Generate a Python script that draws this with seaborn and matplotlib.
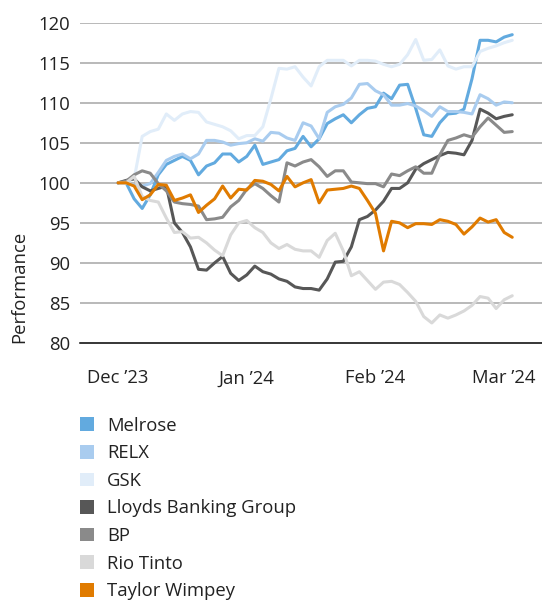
import matplotlib
matplotlib.use("Agg")
import matplotlib.pyplot as plt
from matplotlib.patches import Patch
import numpy as np
import pandas as pd
import seaborn as sns

# rebased share performance (start = 100), one value per step
melrose = [100, 100, 98.0, 96.8, 98.5, 101.0, 102.3, 102.8, 103.3, 102.8,
           101.0, 102.1, 102.5, 103.6, 103.6, 102.6, 103.3, 104.7, 102.3, 102.6,
           102.9, 104.0, 104.3, 105.8, 104.5, 105.5, 107.4, 108.0, 108.5, 107.5,
           108.5, 109.3, 109.5, 111.2, 110.5, 112.2, 112.3, 109.3, 106.0, 105.8,
           107.5, 108.6, 108.7, 109.2, 113.0, 117.8, 117.8, 117.6, 118.2, 118.5]
relx = [100, 100, 99.7, 99.6, 99.9, 101.3, 102.8, 103.3, 103.6, 103.0,
        103.6, 105.3, 105.3, 105.1, 104.7, 104.9, 105.0, 105.5, 105.2, 106.3,
        106.2, 105.6, 105.3, 107.5, 107.1, 105.5, 108.8, 109.5, 109.8, 110.6,
        112.3, 112.4, 111.5, 111.0, 109.7, 109.7, 109.9, 109.6, 109.0, 108.3,
        109.5, 108.9, 108.9, 108.8, 108.6, 111.0, 110.5, 109.7, 110.1, 110.0]
gsk = [100, 100, 100.5, 105.8, 106.4, 106.7, 108.6, 107.8, 108.6, 108.9,
       108.8, 107.6, 107.3, 107.0, 106.5, 105.5, 105.9, 105.9, 107.0, 110.5,
       114.3, 114.2, 114.5, 113.2, 112.1, 114.5, 115.3, 115.3, 115.3, 114.6,
       115.3, 115.3, 115.2, 114.8, 114.5, 114.8, 116.0, 117.9, 115.3, 115.4,
       116.6, 114.6, 114.2, 114.5, 114.5, 116.4, 116.8, 117.1, 117.5, 117.8]
lloyds = [100, 100.3, 100.5, 99.5, 99.0, 99.3, 99.6, 95.0, 93.8, 92.0,
          89.2, 89.1, 90.0, 90.8, 88.7, 87.8, 88.5, 89.6, 88.9, 88.6,
          88.0, 87.7, 87.0, 86.8, 86.8, 86.6, 88.0, 90.1, 90.2, 92.0,
          95.4, 95.8, 96.6, 97.7, 99.3, 99.3, 100.0, 101.7, 102.4, 102.9,
          103.4, 103.8, 103.7, 103.5, 105.3, 109.2, 108.7, 108.0, 108.3, 108.5]
bp = [100, 100.2, 101.0, 101.5, 101.2, 99.9, 99.0, 97.6, 97.4, 97.3,
      97.1, 95.4, 95.5, 95.7, 97.0, 97.8, 99.2, 99.9, 99.3, 98.4,
      97.6, 102.5, 102.1, 102.6, 102.9, 102.0, 100.8, 101.5, 101.5, 100.1,
      100.0, 99.9, 99.9, 99.5, 101.1, 100.9, 101.5, 102.0, 101.2, 101.2,
      103.5, 105.3, 105.6, 106.0, 105.7, 107.0, 108.1, 107.2, 106.3, 106.4]
rio_tinto = [100, 100, 100.8, 98.3, 97.8, 97.6, 95.6, 93.8, 93.9, 93.1,
             93.2, 92.5, 91.6, 90.9, 93.5, 95.0, 95.3, 94.4, 93.8, 92.5,
             91.8, 92.3, 91.7, 91.5, 91.5, 90.7, 92.8, 93.7, 91.5, 88.4,
             88.9, 87.8, 86.7, 87.6, 87.7, 87.3, 86.3, 85.2, 83.3, 82.5,
             83.5, 83.1, 83.5, 84.0, 84.7, 85.8, 85.6, 84.3, 85.4, 85.9]
taylor_wimpey = [100, 100, 99.6, 97.9, 98.5, 99.8, 99.7, 97.8, 98.1, 98.5,
                 96.3, 97.2, 98.0, 99.6, 98.1, 99.2, 99.1, 100.3, 100.2, 99.8,
                 99.0, 100.8, 99.5, 100.0, 100.4, 97.5, 99.1, 99.2, 99.3, 99.6,
                 99.3, 97.8, 96.2, 91.5, 95.2, 95.0, 94.4, 94.9, 94.9, 94.8,
                 95.4, 95.2, 94.8, 93.6, 94.5, 95.6, 95.1, 95.4, 93.8, 93.2]

names = ["Melrose", "RELX", "GSK", "Lloyds Banking Group", "BP",
         "Rio Tinto", "Taylor Wimpey"]
series = [melrose, relx, gsk, lloyds, bp, rio_tinto, taylor_wimpey]
colors = ["#62aadf", "#a9ccef", "#e1edf9", "#575757", "#8a8a8a",
          "#d9d9d9", "#e07b00"]

month_labels = ["Dec \u201923", "Jan \u201924", "Feb \u201924", "Mar \u201924"]
month_pos = [0, 16, 32, 48]

rows = []
for name, vals in zip(names, series):
    for i, v in enumerate(vals):
        rows.append({"step": i, "value": v, "stock": name})
df = pd.DataFrame(rows)

sns.set_style("white")
plt.rcParams["font.family"] = ["Open Sans", "DejaVu Sans"]
fs = 13.3
plt.rcParams["font.size"] = fs
text_color = "#222222"

fig = plt.figure(figsize=(5.42, 6.03), dpi=100)
ax = fig.add_axes([0.1476, 0.4312, 0.8524, 0.5312])

for y in range(85, 121, 5):
    ax.axhline(y, color="#a6a6a6", lw=1.1, zorder=0)

sns.lineplot(data=df, x="step", y="value", hue="stock", hue_order=names,
             palette=dict(zip(names, colors)), linewidth=2.2, ax=ax,
             legend=False)

ax.set_ylim(80, 120)
ax.set_xlim(-4.73, 52.7)
ax.set_yticks(range(80, 121, 5))
ax.set_xticks(month_pos)
ax.set_xticklabels(month_labels)
ax.tick_params(axis="both", length=0, colors=text_color, labelsize=fs)
ax.tick_params(axis="y", pad=7)
ax.tick_params(axis="x", pad=19)

for side in ["top", "right", "left"]:
    ax.spines[side].set_visible(False)
ax.spines["bottom"].set_color("black")
ax.spines["bottom"].set_linewidth(1.1)

ax.set_xlabel("")
ax.set_ylabel("Performance", loc="bottom", color=text_color, fontsize=fs)
ax.yaxis.set_label_coords(-0.113, 0.0)

handles = [Patch(facecolor=c, edgecolor="none") for c in colors]
fig.legend(handles, names, loc="upper left", bbox_to_anchor=(0.148, 0.309),
           frameon=False, handlelength=0.75, handleheight=0.75,
           handletextpad=0.7, labelspacing=0.52, borderpad=0,
           borderaxespad=0, fontsize=fs, labelcolor=text_color)

fig.savefig("out.png", dpi=100)
